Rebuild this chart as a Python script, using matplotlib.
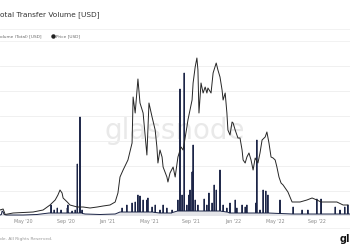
import numpy as np
import matplotlib
matplotlib.use('Agg')
import matplotlib.pyplot as plt
import matplotlib.dates as mdates
from matplotlib.lines import Line2D

# days counted from 2020-05-01
start = np.datetime64('2020-05-01')

# Price [USD]
price_day = [-67, -58, -52, -29, 29, 58, 78, 93, 101, 107, 113, 116, 128, 136, 157, 174, 194, 215,
             232, 252, 267, 275, 281, 290, 304, 316, 319, 325, 333, 339, 348, 359, 365, 374, 383,
             388, 391, 397, 403, 406, 417, 420, 426, 435, 441, 449, 458, 464, 475, 478, 490, 493,
             499, 504, 507, 510, 516, 522, 528, 533, 536, 545, 551, 560, 565, 571, 577, 580, 586,
             591, 594, 600, 606, 609, 615, 623, 629, 635, 638, 644, 649, 655, 661, 667, 673, 681,
             687, 693, 702, 707, 713, 719, 725, 731, 736, 742, 748, 754, 760, 768, 780, 789, 803,
             823, 838, 852, 864, 881, 910, 928, 942]
price_usd = [240, 280, 60, 120, 160, 240, 440, 640, 840, 1040, 920, 720, 560, 440, 360, 360, 320, 360,
             400, 440, 560, 920, 1560, 1840, 2240, 2920, 4760, 4120, 5480, 4520, 4120, 2440, 4520,
             3960, 3440, 2760, 2120, 2640, 2360, 1960, 1560, 1360, 1720, 1960, 1560, 2360, 2760,
             2640, 3560, 3840, 4640, 5320, 5960, 6320, 5840, 4120, 5320, 4920, 5160, 4920, 5120,
             4920, 5720, 6120, 5840, 5560, 5040, 4640, 4920, 4120, 3440, 3240, 3760, 3720, 3440,
             3120, 3120, 2640, 2240, 2120, 2360, 2520, 2240, 1840, 2320, 2120, 2520, 3040, 3160,
             3360, 2920, 2360, 2320, 2240, 1960, 1560, 1320, 1240, 1120, 960, 560, 560, 560, 640,
             720, 640, 560, 560, 560, 440, 440]

# Transfer Volume (Total) [USD], billions
vol_day = [-67, -63, -61, -58, -55, -49, 0, 40, 64, 75,
           80, 81, 82, 89, 90, 91, 98, 99, 100, 109, 110, 111, 127, 128, 129, 130, 131,
           141, 142, 143, 150, 151, 152, 156, 157, 158, 164, 165, 166, 170, 171, 172,
           180, 223, 267, 281,
           286, 287, 288, 300, 301, 302, 315, 316, 317, 324, 325, 326, 332, 333, 334,
           338, 339, 340, 347, 348, 349, 358, 359, 360, 361, 362, 363, 373, 374, 375,
           382, 383, 384, 396, 397, 398, 405, 406, 407, 416, 417, 418, 431, 432, 433,
           448, 449, 450, 454, 455, 456, 460, 461, 462, 466, 467, 468, 474, 475, 476,
           480, 481, 482, 483, 484, 485, 489, 490, 491, 492, 493, 494, 498, 499, 500,
           506, 507, 508, 524, 525, 526, 532, 533, 534, 538, 539, 540, 547, 548, 549,
           553, 554, 555, 559, 560, 561, 570, 571, 572, 579, 580, 581, 590, 591, 592,
           599, 600, 601, 614, 615, 616, 619, 620, 621, 634, 635, 636, 643, 644, 645,
           648, 649, 650, 674, 675, 676, 677, 678, 679, 686, 687, 688, 695, 696, 697,
           703, 704, 705, 709, 710, 711, 744, 745, 746, 782, 783, 784, 808, 809, 810,
           825, 826, 827, 851, 852, 853, 863, 864, 865, 904, 905, 906, 918, 919, 920,
           932, 933, 934, 941, 942, 943, 948]
vol_bn = [0.2, 0.3, 1.0, 0.8, 0.3, 0.2, 0.2, 0.3, 0.5, 0.6,
          0.6, 2.2, 0.6, 0.6, 1.2, 0.6, 0.6, 1.6, 0.6, 0.6, 1.2, 0.6, 0.6, 1.6, 0.6, 2.2, 0.6,
          0.6, 1.0, 0.6, 0.6, 1.2, 0.6, 0.6, 10.4, 0.6, 0.6, 19.8, 0.6, 0.6, 1.2, 0.5,
          0.4, 0.3, 0.4, 0.8,
          0.8, 1.6, 0.8, 0.8, 2.2, 0.8, 0.8, 2.6, 0.8, 0.8, 2.8, 0.8, 0.8, 4.2, 0.8,
          0.8, 4.0, 0.8, 0.8, 3.2, 0.8, 0.8, 3.2, 0.8, 0.8, 3.6, 0.8, 0.8, 1.8, 0.8,
          0.7, 2.2, 0.7, 0.6, 1.2, 0.6, 0.6, 2.2, 0.6, 0.6, 1.6, 0.6, 0.6, 1.2, 0.7,
          1.0, 3.2, 1.0, 1.0, 25.4, 1.0, 1.0, 4.2, 1.0, 1.0, 28.6, 1.0, 1.0, 2.2, 1.0,
          1.0, 4.2, 1.0, 1.0, 5.2, 1.0, 1.0, 8.8, 1.0, 1.0, 14.2, 1.0, 1.0, 3.2, 1.0,
          1.0, 2.2, 1.0, 1.0, 3.4, 1.0, 1.0, 2.2, 1.0, 1.0, 4.6, 1.0, 1.0, 2.6, 1.0,
          1.0, 6.2, 1.0, 1.0, 5.2, 1.0, 1.0, 9.2, 1.0, 0.9, 2.2, 0.9, 0.8, 1.6, 0.8,
          0.6, 2.6, 0.6, 0.6, 3.2, 0.6, 0.6, 1.6, 0.6, 0.6, 2.2, 0.6, 0.6, 1.8, 0.6,
          0.6, 2.2, 0.6, 0.6, 2.6, 0.6, 0.6, 15.2, 0.6, 0.6, 1.2, 0.6, 0.6, 5.2, 0.6,
          0.6, 5.0, 0.6, 0.6, 4.2, 0.6, 0.5, 3.2, 0.5, 0.4, 1.8, 0.4, 0.4, 1.2, 0.4,
          0.4, 1.2, 0.4, 0.4, 3.4, 0.4, 0.4, 3.4, 0.4, 0.4, 1.8, 0.4, 0.4, 1.2, 0.4,
          0.4, 1.8, 0.4, 0.4, 2.2, 0.4, 0.4]

tick_dates = ['2020-05-01', '2020-09-01', '2021-01-01', '2021-05-01',
              '2021-09-01', '2022-01-01', '2022-05-01', '2022-09-01']


def to_dates(days):
    return start + np.array(days).astype('timedelta64[D]')


fig = plt.figure(figsize=(3.5, 2.5), dpi=100)
ax = fig.add_axes([0, 0.136, 1, 0.672])
ax2 = ax.twinx()

# volume (navy, spiky) on the left scale
vx = to_dates(vol_day)
ax.fill_between(vx, vol_bn, color='#1c2547', alpha=0.12, lw=0)
ax.plot(vx, vol_bn, color='#1c2547', lw=0.7, zorder=3)

# price (black) on the right scale
ax2.plot(to_dates(price_day), price_usd, color='#262626', lw=0.7)

ax.set_ylim(0, 33.6)
ax2.set_ylim(0, 6720)
ax.set_xlim(np.datetime64('2020-02-24'), np.datetime64('2022-12-05'))

ax.set_yticks([5, 10, 15, 20, 25, 30])
ax.yaxis.grid(True, color='#eeeeee', lw=0.6)
ax.set_axisbelow(True)
ax.tick_params(axis='y', left=False, labelleft=False)
ax2.tick_params(axis='y', right=False, labelright=False)
ax2.set_yticks([])

ax.set_xticks(np.array(tick_dates, dtype='datetime64[D]'))
ax.xaxis.set_major_formatter(mdates.DateFormatter("%b '%y"))
ax.tick_params(axis='x', length=0, labelsize=3.4, colors='#8a8a8a', pad=1.8)

for a in (ax, ax2):
    for s in a.spines.values():
        s.set_visible(False)

# watermark
ax.text(0.5, 0.506, 'glassnode', transform=ax.transAxes, fontsize=20,
        color='#e9e9e9', ha='center', va='center', zorder=0)

# title and legend (the reference is cropped at the left edge)
fig.text(0.0, 0.94, 'otal Transfer Volume [USD]', fontsize=5.3, color='#333333', va='center')
fig.text(0.0, 0.856, 'olume (Total) [USD]', fontsize=3.1, color='#666666', ha='left', va='center')
fig.add_artist(Line2D([0.151], [0.856], marker='o', ms=2.2, color='#222222',
                      transform=fig.transFigure))
fig.text(0.16, 0.856, 'Price [USD]', fontsize=3.1, color='#666666', ha='left', va='center')

for yy in (0.884, 0.836, 0.088):
    fig.add_artist(Line2D([0, 1], [yy, yy], color='#f0f0f0', lw=0.6, transform=fig.transFigure))

# footer
fig.text(0.0, 0.044, 'de. All Rights Reserved.', fontsize=3.2,
         color='#999999', ha='left', va='center')
fig.text(0.971, 0.044, 'gl', fontsize=7, weight='bold', color='#111111', va='center')

fig.savefig('out.png', dpi=100)
